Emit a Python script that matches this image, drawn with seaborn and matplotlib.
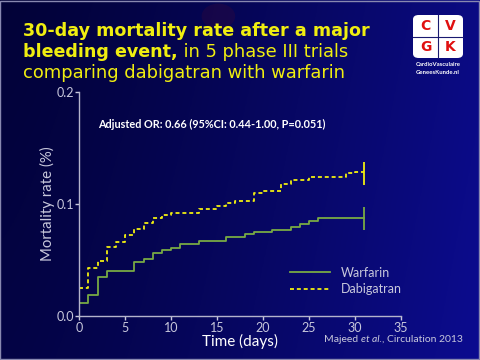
import numpy as np
import pandas as pd
import seaborn as sns
import matplotlib
matplotlib.use('Agg')
import matplotlib.pyplot as plt
from matplotlib.patches import FancyBboxPatch, Ellipse, Rectangle

# --- data ---
days_warf = [0, 1, 2, 3, 6, 7, 8, 9, 10, 11, 13, 16, 18, 19, 21, 23, 24, 25, 26, 31]
rate_warf = [0.012, 0.019, 0.035, 0.0405, 0.0485, 0.051, 0.0565, 0.059, 0.061, 0.0646,
             0.0667, 0.0708, 0.0729, 0.0747, 0.077, 0.0792, 0.0824, 0.085, 0.0875, 0.0875]
days_dabi = [0, 1, 2, 3, 4, 5, 6, 7, 8, 9, 10, 13, 15, 16, 17, 19, 20, 22, 23, 25, 29, 30, 31]
rate_dabi = [0.025, 0.043, 0.049, 0.0616, 0.0658, 0.072, 0.078, 0.0827, 0.088, 0.090, 0.0917,
             0.096, 0.0985, 0.1006, 0.103, 0.110, 0.112, 0.118, 0.1214, 0.1244, 0.1274,
             0.1288, 0.1288]
censor_day = 31
x_ticks = [0, 5, 10, 15, 20, 25, 30, 35]
y_ticks = [0.0, 0.1, 0.2]
y_ticklabels = ['0.0', '0.1', '0.2']

df = pd.concat([
    pd.DataFrame({'day': days_warf, 'rate': rate_warf, 'arm': 'Warfarin'}),
    pd.DataFrame({'day': days_dabi, 'rate': rate_dabi, 'arm': 'Dabigatran'}),
], ignore_index=True)

plt.rcParams['font.family'] = ['Lato', 'DejaVu Sans']
green = '#78aa44'
yellow = '#f0ee10'
grey = '#c8c8dc'

fig = plt.figure(figsize=(4.8, 3.6), dpi=100)

# background gradient
bg = fig.add_axes([0, 0, 1, 1], zorder=-10)
gx = np.linspace(0, 1, 200)
gy = np.linspace(0, 1, 150)
GX, GY = np.meshgrid(gx, gy)
c0 = np.array([0x02, 0x02, 0x38]) / 255
c1 = np.array([0x0c, 0x0c, 0x90]) / 255
t = np.clip(0.85 * GX ** 1.3 + 0.15 * GY, 0, 1)
img = c0[None, None, :] * (1 - t[..., None]) + c1[None, None, :] * t[..., None]
bg.imshow(img, extent=[0, 1, 0, 1], aspect='auto', origin='upper')
bg.add_patch(Ellipse((0.455, 0.955), 0.07, 0.07, color='#4a0a30', alpha=0.25, lw=0))
bg.add_patch(Rectangle((0.001, 0.002), 0.997, 0.995, fill=False, ec='#8888b0', lw=1))
bg.set_xlim(0, 1)
bg.set_ylim(0, 1)
bg.axis('off')

ax = fig.add_axes([0.165, 0.122, 0.670, 0.622])
ax.set_facecolor('none')
sns.lineplot(data=df, x='day', y='rate', hue='arm', style='arm',
             palette={'Warfarin': green, 'Dabigatran': yellow},
             dashes={'Warfarin': '', 'Dabigatran': (2.2, 1.6)},
             drawstyle='steps-post', errorbar=None, linewidth=1.3, ax=ax)

# censoring ticks at end of follow-up
ax.vlines(censor_day, rate_warf[-1] - 0.0105, rate_warf[-1] + 0.0098, color=green, lw=1.3)
ax.vlines(censor_day, rate_dabi[-1] - 0.0118, rate_dabi[-1] + 0.009, color=yellow, lw=1.3)

ax.set_xlim(0, 35)
ax.set_ylim(0, 0.2)
ax.set_xticks(x_ticks)
ax.set_yticks(y_ticks)
ax.set_yticklabels(y_ticklabels)
ax.tick_params(colors=grey, labelsize=9, length=3, width=1, pad=1)
for s in ['top', 'right']:
    ax.spines[s].set_visible(False)
for s in ['left', 'bottom']:
    ax.spines[s].set_color('#b4b4cc')
    ax.spines[s].set_linewidth(1)
ax.set_xlabel('Time (days)', color='white', fontsize=11, labelpad=0)
ax.set_ylabel('Mortality rate (%)', color=grey, fontsize=10.8, labelpad=1)

leg = ax.legend(loc='upper left', bbox_to_anchor=(0.62, 0.27), frameon=False,
                fontsize=9, handlelength=3.2, handletextpad=0.9, labelspacing=0.35)
for txt in leg.get_texts():
    txt.set_color(grey)

ax.text(0.06, 0.855, 'Adjusted OR: 0.66 (95%CI: 0.44-1.00, P=0.051)', transform=ax.transAxes,
        color='white', fontsize=7.8, fontweight='bold', va='center')

# title
tfont = ['DejaVu Sans']
fig.text(23 / 480, 1 - 36 / 360, '30-day mortality rate after a major', color=yellow,
         fontsize=12.6, fontweight='bold', family=tfont, va='baseline')
t2 = fig.text(23 / 480, 1 - 57 / 360, 'bleeding event,', color=yellow,
              fontsize=12.6, fontweight='bold', family=tfont, va='baseline')
fig.add_artist(plt.Annotation(' in 5 phase III trials', xy=(1, 0), xycoords=t2,
                              color=yellow, fontsize=12.9, family=tfont, va='bottom'))
fig.text(23 / 480, 1 - 78 / 360, 'comparing dabigatran with warfarin', color=yellow,
         fontsize=12.9, family=tfont, va='baseline')

# source
s1 = fig.text(324 / 480, 1 - 342 / 360, 'Majeed ', color=grey, fontsize=7.5, va='baseline')
s2 = fig.add_artist(plt.Annotation('et al.', xy=(1, 0), xycoords=s1, color=grey,
                                   fontsize=7.5, style='italic', va='bottom'))
fig.add_artist(plt.Annotation(', Circulation 2013', xy=(1, 0), xycoords=s2, color=grey,
                              fontsize=7.5, va='bottom'))

# logo
lx, ly, lw_, lh = 413 / 480, 1 - 58 / 360, 50 / 480, 43 / 360
fig.add_artist(FancyBboxPatch((lx, ly), lw_, lh, boxstyle='round,pad=0,rounding_size=0.012',
                              transform=fig.transFigure, fc='white', ec='none'))
fig.add_artist(plt.Line2D([lx + lw_ / 2] * 2, [ly, ly + lh], transform=fig.transFigure,
                          color='#1a1a70', lw=0.8))
fig.add_artist(plt.Line2D([lx, lx + lw_], [ly + lh / 2] * 2, transform=fig.transFigure,
                          color='#1a1a70', lw=0.8))
for i, letter in enumerate(['C', 'V', 'G', 'K']):
    cx = lx + lw_ * (0.25 + 0.5 * (i % 2))
    cy = ly + lh * (0.75 - 0.5 * (i // 2))
    fig.text(cx, cy, letter, color='#e01010', fontsize=10, fontweight='bold',
             family=tfont, ha='center', va='center')
fig.text(lx + lw_ / 2, 1 - 64 / 360, 'CardioVasculaire', color='white', fontsize=4.3,
         fontweight='bold', ha='center', va='center')
fig.text(lx + lw_ / 2, 1 - 72 / 360, 'GeneesKunde.nl', color='white', fontsize=4.3,
         fontweight='bold', ha='center', va='center')

fig.savefig('out.png', dpi=100)
